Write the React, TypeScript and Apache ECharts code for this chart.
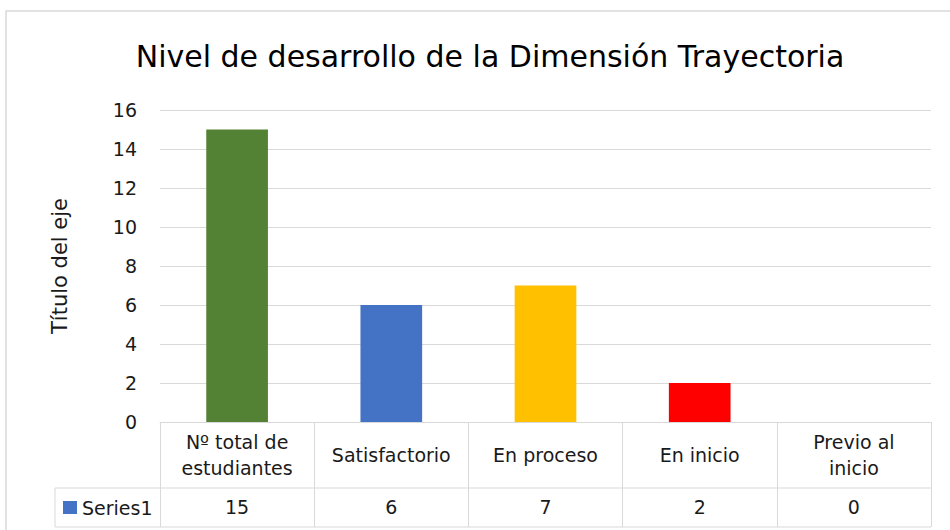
import React, { useEffect, useRef } from "react";
import * as echarts from "echarts";

const categories = ["Nº total de\nestudiantes", "Satisfactorio", "En proceso", "En inicio", "Previo al\ninicio"];
const values = [15, 6, 7, 2, 0];
const barColors = ["#548235", "#4472C4", "#FFC000", "#FF0000", "#A5A5A5"];
const seriesName = "Series1";
const yTicks = { min: 0, max: 16, interval: 2 };

const FONT = "'DejaVu Sans', sans-serif";
const TEXT = "#1a1a1a";
const LINE = "#D9D9D9";

const GRID = { left: 160, right: 19, top: 110, bottom: 108 };
const TABLE_BOTTOM = 527;
const ROW_LINE = 488;
const LEGEND_LEFT = 55;

export default function App() {
  const ref = useRef<HTMLDivElement>(null);
  useEffect(() => {
    if (!ref.current) return;
    const chart = echarts.init(ref.current, undefined, { renderer: "svg" });
    const plotRight = 950 - GRID.right;
    const axisY = 530 - GRID.bottom;
    chart.setOption({
      animation: false,
      backgroundColor: "#fff",
      textStyle: { fontFamily: FONT },
      title: {
        text: "Nivel de desarrollo de la Dimensión Trayectoria",
        left: 485,
        top: 36,
        textAlign: "center",
        textStyle: { fontFamily: FONT, fontSize: 30, fontWeight: "normal", color: "#000" },
      },
      grid: { left: GRID.left, right: GRID.right, top: GRID.top, bottom: GRID.bottom, containLabel: false },
      xAxis: [
        {
          type: "category",
          data: categories,
          position: "bottom",
          axisLine: { show: true, lineStyle: { color: LINE, width: 1 } },
          axisTick: { show: true, interval: 0, length: TABLE_BOTTOM - axisY, lineStyle: { color: LINE } },
          axisLabel: {
            interval: 0,
            margin: 33,
            verticalAlign: "middle",
            fontFamily: FONT,
            fontSize: 19,
            lineHeight: 26,
            color: TEXT,
          },
        },
        {
          type: "category",
          data: values.map((v) => String(v)),
          position: "bottom",
          axisLine: { show: false },
          axisTick: { show: false },
          axisLabel: {
            interval: 0,
            margin: 85,
            verticalAlign: "middle",
            fontFamily: FONT,
            fontSize: 19,
            color: TEXT,
          },
        },
      ],
      yAxis: {
        type: "value",
        min: yTicks.min,
        max: yTicks.max,
        interval: yTicks.interval,
        name: "Título del eje",
        nameLocation: "middle",
        nameGap: 90,
        nameTextStyle: { fontFamily: FONT, fontSize: 21, color: TEXT },
        axisLine: { show: false },
        axisTick: { show: false },
        splitLine: { lineStyle: { color: LINE, width: 1 } },
        axisLabel: { margin: 23, fontFamily: FONT, fontSize: 19, color: TEXT },
      },
      series: [
        {
          name: seriesName,
          type: "bar",
          xAxisIndex: 0,
          barWidth: "40%",
          data: values.map((v, i) => ({ value: v, itemStyle: { color: barColors[i] } })),
        },
      ],
      graphic: [
        {
          type: "rect",
          shape: { x: 6, y: 11, width: 1000, height: 600 },
          style: { fill: "none", stroke: LINE, lineWidth: 1.5 },
          silent: true,
          z: -1,
        },
        {
          type: "line",
          shape: { x1: LEGEND_LEFT, y1: ROW_LINE, x2: plotRight, y2: ROW_LINE },
          style: { stroke: LINE, lineWidth: 1 },
        },
        {
          type: "line",
          shape: { x1: LEGEND_LEFT, y1: TABLE_BOTTOM, x2: plotRight, y2: TABLE_BOTTOM },
          style: { stroke: LINE, lineWidth: 1 },
        },
        {
          type: "line",
          shape: { x1: LEGEND_LEFT, y1: ROW_LINE, x2: LEGEND_LEFT, y2: TABLE_BOTTOM },
          style: { stroke: LINE, lineWidth: 1 },
        },
        {
          type: "rect",
          shape: { x: 63, y: 501, width: 14, height: 13 },
          style: { fill: barColors[1] },
        },
        {
          type: "text",
          x: 82,
          y: 507.5,
          style: {
            text: seriesName,
            fontFamily: FONT,
            fontSize: 19,
            fill: TEXT,
            verticalAlign: "middle",
            align: "left",
          },
        },
      ],
    });
    return () => chart.dispose();
  }, []);
  return <div ref={ref} style={{ position: "fixed", left: 0, top: 0, width: 950, height: 530 }} />;
}
